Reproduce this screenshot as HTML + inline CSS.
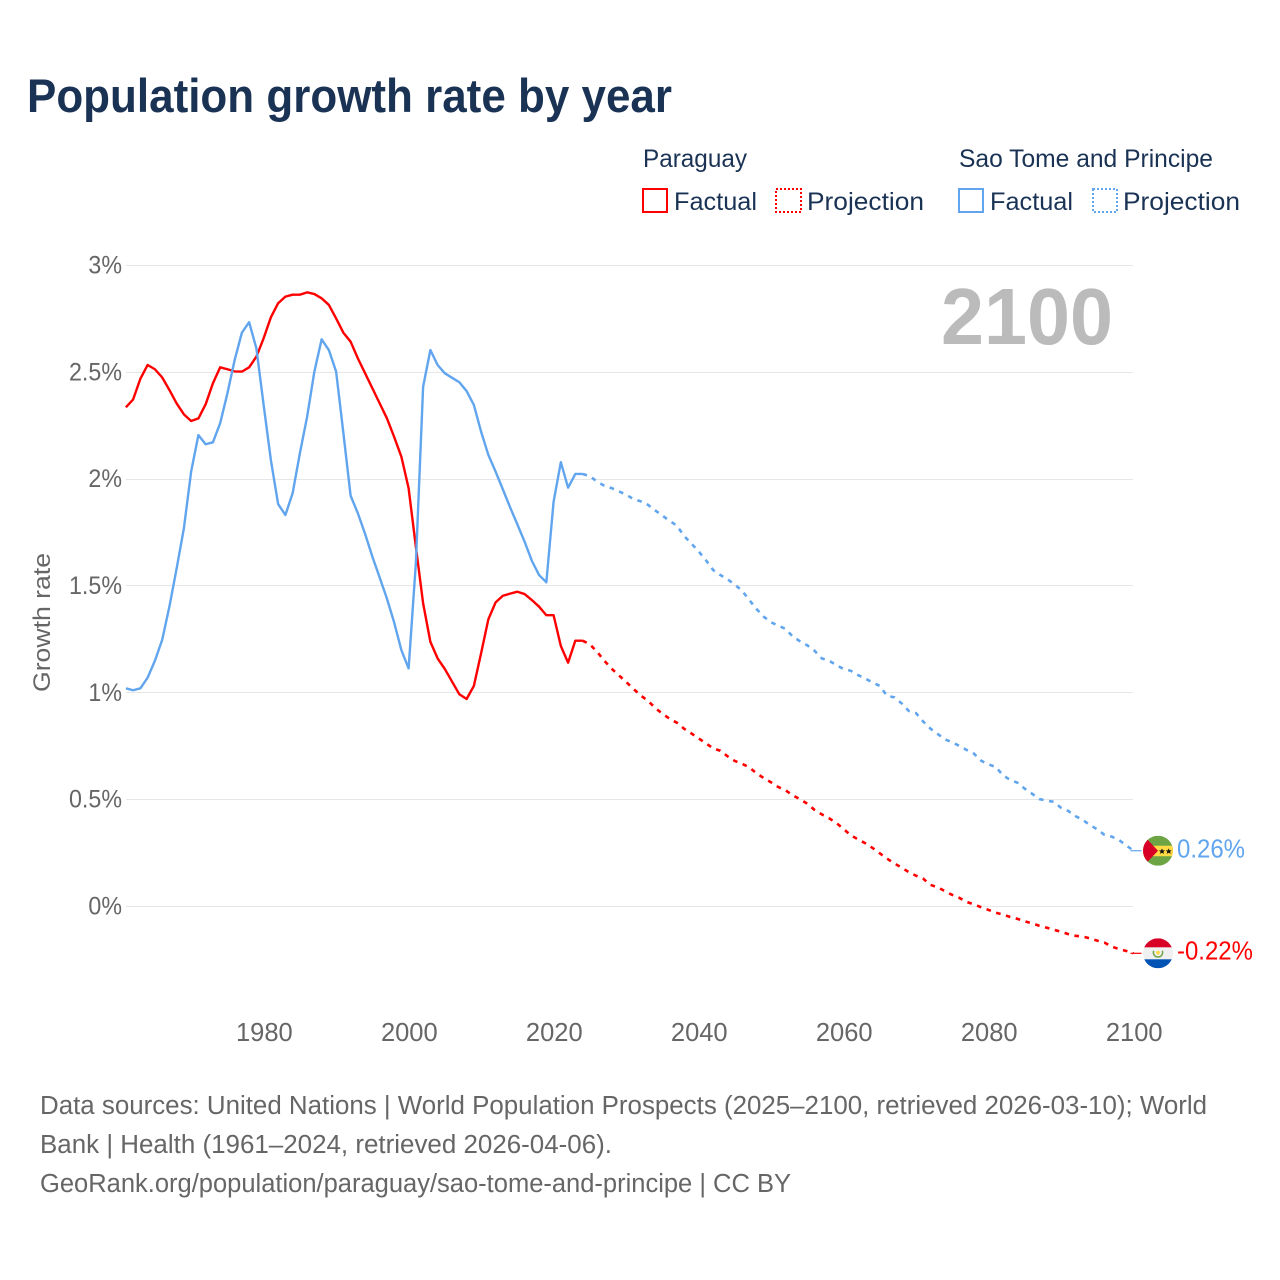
<!DOCTYPE html>
<html lang="en">
<head>
<meta charset="utf-8">
<title>Population growth rate by year</title>
<style>
html,body{margin:0;padding:0;background:#fff;width:1280px;height:1280px;overflow:hidden}
svg{display:block}
text{font-family:"Liberation Sans",sans-serif}
</style>
</head>
<body>
<svg id="chart" width="1280" height="1280" viewBox="0 0 1280 1280" xmlns="http://www.w3.org/2000/svg">
  <rect x="0" y="0" width="1280" height="1280" fill="#fff"/>
  <text x="27" y="112" font-size="47" font-weight="bold" fill="#1a3354" textLength="645" lengthAdjust="spacingAndGlyphs">Population growth rate by year</text>

  <text x="643" y="167" font-size="25" fill="#1a3354" textLength="104" lengthAdjust="spacingAndGlyphs">Paraguay</text>
  <text x="959" y="167" font-size="25" fill="#1a3354" textLength="254" lengthAdjust="spacingAndGlyphs">Sao Tome and Principe</text>

  <g>
    <rect x="643" y="189" width="24" height="23" fill="none" stroke="#ff0000" stroke-width="2"/>
    <text x="674" y="210" font-size="25" fill="#1a3354" textLength="83" lengthAdjust="spacingAndGlyphs">Factual</text>
  </g>
  <g>
    <rect x="776" y="189" width="25" height="23" fill="none" stroke="#ff0000" stroke-width="2" stroke-dasharray="2 2"/>
    <text x="807" y="210" font-size="25" fill="#1a3354" textLength="117" lengthAdjust="spacingAndGlyphs">Projection</text>
  </g>
  <g>
    <rect x="959" y="189" width="24" height="23" fill="none" stroke="#60a5ee" stroke-width="2"/>
    <text x="990" y="210" font-size="25" fill="#1a3354" textLength="83" lengthAdjust="spacingAndGlyphs">Factual</text>
  </g>
  <g>
    <rect x="1093" y="189" width="24" height="23" fill="none" stroke="#60a5ee" stroke-width="2" stroke-dasharray="2 2"/>
    <text x="1123" y="210" font-size="25" fill="#1a3354" textLength="117" lengthAdjust="spacingAndGlyphs">Projection</text>
  </g>

  <g id="grid"></g>
  <g id="yticks"></g>
  <g id="xticks"></g>
  <text x="0" y="0" transform="translate(50 622.5) rotate(-90)" text-anchor="middle" font-size="24" fill="#666" textLength="139" lengthAdjust="spacingAndGlyphs">Growth rate</text>
  <text x="1113" y="344" text-anchor="end" font-size="80" font-weight="bold" fill="#bbb" textLength="172" lengthAdjust="spacingAndGlyphs">2100</text>

  <g id="series"></g>

  <g id="flag-stp">
    <clipPath id="clip-stp"><circle cx="0" cy="0" r="15"/></clipPath>
    <g clip-path="url(#clip-stp)">
      <rect x="-15" y="-15" width="30" height="30" fill="#6da544"/>
      <rect x="-15" y="-5" width="30" height="10.5" fill="#ffda44"/>
      <polygon points="-16,-17 0,0 -16,17" fill="#d80027"/>
      <polygon points="4,-2.4 4.9,-0.4 7.1,-0.4 5.4,1 6,3.2 4,2 2,3.2 2.6,1 0.9,-0.4 3.1,-0.4" fill="#111"/>
      <polygon points="10.7,-2.4 11.6,-0.4 13.8,-0.4 12.1,1 12.7,3.2 10.7,2 8.7,3.2 9.3,1 7.6,-0.4 9.8,-0.4" fill="#111"/>
    </g>
  </g>
  <g id="flag-par">
    <clipPath id="clip-par"><circle cx="0" cy="0" r="15"/></clipPath>
    <g clip-path="url(#clip-par)">
      <rect x="-15" y="-15" width="30" height="30" fill="#f0f0f0"/>
      <rect x="-15" y="-15" width="30" height="9" fill="#d80027"/>
      <rect x="-15" y="6" width="30" height="9" fill="#0052b4"/>
      <path d="M-4.3,-2.5 A4.6,4.6 0 1 0 4.3,-2.5" fill="none" stroke="#6da544" stroke-width="1.5"/>
      <circle cx="0" cy="-0.6" r="1.9" fill="#ffda44"/>
    </g>
  </g>

  <g id="end-labels"></g>

  <text x="40" y="1114" font-size="25.5" fill="#666" textLength="1167" lengthAdjust="spacingAndGlyphs">Data sources: United Nations | World Population Prospects (2025–2100, retrieved 2026-03-10); World</text>
  <text x="40" y="1153" font-size="25.5" fill="#666" textLength="572" lengthAdjust="spacingAndGlyphs">Bank | Health (1961–2024, retrieved 2026-04-06).</text>
  <text x="40" y="1192" font-size="25.5" fill="#666" textLength="751" lengthAdjust="spacingAndGlyphs">GeoRank.org/population/paraguay/sao-tome-and-principe | CC BY</text>
</svg>

<script>
const firstYear = 1961;
const xTicks = [1980, 2000, 2020, 2040, 2060, 2080, 2100];
const yTicks = [0, 0.5, 1, 1.5, 2, 2.5, 3];
const yTickLabels = ["0%", "0.5%", "1%", "1.5%", "2%", "2.5%", "3%"];

// Factual series: one value per year from 1961 through 2024
const paraguayFactual = [
  2.336,2.373,2.470,2.534,2.514,2.476,2.417,2.354,2.303,2.272,
  2.284,2.350,2.448,2.523,2.514,2.504,2.503,2.523,2.573,2.659,
  2.757,2.823,2.854,2.863,2.863,2.874,2.866,2.846,2.815,2.752,
  2.685,2.643,2.565,2.495,2.425,2.355,2.285,2.198,2.105,1.957,
  1.684,1.419,1.239,1.161,1.111,1.052,0.993,0.971,1.032,1.185,
  1.344,1.423,1.454,1.464,1.473,1.462,1.434,1.403,1.363,1.363,
  1.219,1.141,1.244,1.244
];
const saoTomeFactual = [
  1.021,1.012,1.021,1.071,1.150,1.247,1.403,1.582,1.770,2.035,
  2.206,2.163,2.172,2.261,2.401,2.557,2.685,2.734,2.612,2.347,
  2.089,1.883,1.832,1.934,2.121,2.292,2.503,2.654,2.604,2.503,
  2.216,1.922,1.840,1.743,1.637,1.540,1.442,1.330,1.200,1.114,
  1.606,2.432,2.604,2.534,2.495,2.474,2.453,2.412,2.347,2.222,
  2.113,2.035,1.952,1.868,1.788,1.707,1.618,1.551,1.517,1.894,
  2.079,1.960,2.024,2.024
];

// Projection series: one value per year from 2025 through 2100
const paraguayProjection = [
  1.227,1.192,1.150,1.113,1.082,1.051,1.019,0.988,0.963,0.930,
  0.902,0.879,0.860,0.832,0.810,0.787,0.764,0.740,0.729,0.703,
  0.681,0.668,0.651,0.623,0.601,0.581,0.559,0.544,0.520,0.502,
  0.481,0.452,0.431,0.413,0.391,0.363,0.333,0.314,0.296,0.274,
  0.249,0.224,0.202,0.182,0.161,0.144,0.130,0.101,0.090,0.071,
  0.054,0.040,0.021,0.010,-0.004,-0.016,-0.029,-0.038,-0.049,-0.058,
  -0.069,-0.079,-0.090,-0.099,-0.109,-0.118,-0.129,-0.137,-0.141,-0.149,
  -0.160,-0.169,-0.188,-0.199,-0.208,-0.219
];
const saoTomeProjection = [
  2.014,1.988,1.969,1.958,1.943,1.927,1.907,1.896,1.880,1.854,
  1.829,1.805,1.782,1.734,1.699,1.662,1.621,1.575,1.551,1.531,
  1.506,1.478,1.434,1.392,1.356,1.330,1.314,1.299,1.263,1.241,
  1.222,1.197,1.161,1.150,1.130,1.111,1.103,1.083,1.066,1.049,
  1.032,0.986,0.979,0.951,0.915,0.905,0.865,0.832,0.807,0.782,
  0.768,0.751,0.732,0.715,0.682,0.665,0.653,0.614,0.592,0.579,
  0.551,0.528,0.503,0.495,0.490,0.462,0.447,0.423,0.405,0.381,
  0.361,0.335,0.327,0.311,0.286,0.261
];
const endLabelParaguay = "-0.22%";
const endLabelSaoTome = "0.26%";

const NS = "http://www.w3.org/2000/svg";
const RED = "#ff0000";
const BLUE = "#60a5ee";

function xScale(year) { return 125.9 + (year - 1961) * 7.249; }
function yScale(value) { return 906.5 - value * 213.7; }

function svgEl(tag, parentId) {
  const el = document.createElementNS(NS, tag);
  document.getElementById(parentId).appendChild(el);
  return el;
}

function linePath(values, startYear) {
  return values.map(function (v, i) {
    return (i ? "L" : "M") + xScale(startYear + i).toFixed(2) + " " + yScale(v).toFixed(2);
  }).join(" ");
}

function squeeze(el, factor) {
  el.setAttribute("lengthAdjust", "spacingAndGlyphs");
  el.setAttribute("textLength", (el.getComputedTextLength() * factor).toFixed(1));
}

yTicks.forEach(function (t, i) {
  const py = Math.floor(yScale(t)) + 0.5;
  const line = svgEl("line", "grid");
  
  
  line.setAttribute("x1", 126);
  line.setAttribute("x2", 1133);
  line.setAttribute("y1", py);
  line.setAttribute("y2", py);
  line.setAttribute("stroke", "#e6e6e6");
  line.setAttribute("stroke-width", 1);

  const label = svgEl("text", "yticks");
  
  
  label.setAttribute("x", 122);
  label.setAttribute("y", yScale(t) + 8);
  label.setAttribute("text-anchor", "end");
  label.setAttribute("font-size", 25);
  label.setAttribute("fill", "#666");
  label.textContent = yTickLabels[i];
  squeeze(label, 0.93);
});

xTicks.forEach(function (t) {
  const label = svgEl("text", "xticks");
  
  
  label.setAttribute("x", xScale(t) + 0.7);
  label.setAttribute("y", 1041);
  label.setAttribute("text-anchor", "middle");
  label.setAttribute("font-size", 25.5);
  label.setAttribute("fill", "#666");
  label.textContent = String(t);
});

function drawSeries(name, factual, projection, color) {
  const solid = svgEl("path", "series");
  
  
  solid.setAttribute("d", linePath(factual, firstYear));
  solid.setAttribute("fill", "none");
  solid.setAttribute("stroke", color);
  solid.setAttribute("stroke-width", 2.4);
  solid.setAttribute("stroke-linejoin", "round");

  const lastFactualYear = firstYear + factual.length - 1;
  const joined = [factual[factual.length - 1]].concat(projection);
  const dashed = svgEl("path", "series");
  
  
  dashed.setAttribute("d", linePath(joined, lastFactualYear));
  dashed.setAttribute("fill", "none");
  dashed.setAttribute("stroke", color);
  dashed.setAttribute("stroke-width", 2.6);
  dashed.setAttribute("stroke-dasharray", "4.6 5.6");

  const lastValue = projection[projection.length - 1];
  const lastYear = lastFactualYear + projection.length;
  const connector = svgEl("line", "series");
  
  
  connector.setAttribute("x1", xScale(lastYear) - 3);
  connector.setAttribute("x2", xScale(lastYear) + 8);
  connector.setAttribute("y1", yScale(lastValue));
  connector.setAttribute("y2", yScale(lastValue));
  connector.setAttribute("stroke", color);
  connector.setAttribute("stroke-width", 1.2);
  return lastValue;
}

const parEnd = drawSeries("paraguay", paraguayFactual, paraguayProjection, RED);
const stpEnd = drawSeries("sao-tome", saoTomeFactual, saoTomeProjection, BLUE);

document.getElementById("flag-par").setAttribute("transform", "translate(1158 " + yScale(parEnd) + ")");
document.getElementById("flag-stp").setAttribute("transform", "translate(1158 " + yScale(stpEnd) + ")");

const parLabel = svgEl("text", "end-labels");


parLabel.setAttribute("x", 1177);
parLabel.setAttribute("y", yScale(parEnd) + 6);
parLabel.setAttribute("font-size", 25.5);
parLabel.setAttribute("fill", RED);
parLabel.textContent = endLabelParaguay;
squeeze(parLabel, 0.94);

const stpLabel = svgEl("text", "end-labels");


stpLabel.setAttribute("x", 1177);
stpLabel.setAttribute("y", yScale(stpEnd) + 7);
stpLabel.setAttribute("font-size", 25.5);
stpLabel.setAttribute("fill", BLUE);
stpLabel.textContent = endLabelSaoTome;
squeeze(stpLabel, 0.94);
</script>
</body>
</html>
